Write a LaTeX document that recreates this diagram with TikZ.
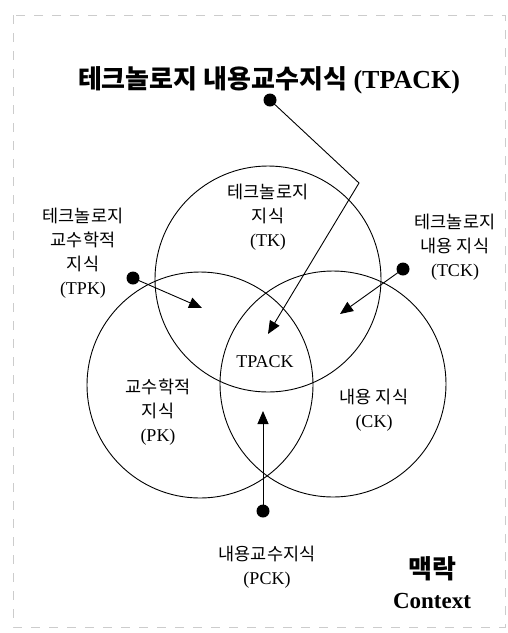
\documentclass[tikz,border=0pt]{standalone}
\usepackage{fontspec}
\setmainfont{Liberation Serif}
\newfontfamily\krfont{Noto Sans CJK KR}
\newcommand\kor[1]{{\krfont\fontsize{17.5}{24}\selectfont #1}}
\usetikzlibrary{arrows.meta}
\begin{document}
\begin{tikzpicture}[x=1pt,y=-1pt,
  setcircle/.style={draw, circle, line width=0.9pt, minimum size=226pt, inner sep=0pt},
  lbl/.style={align=center, font=\fontsize{18}{24}\selectfont, inner sep=0pt},
  dotnode/.style={circle, fill=black, minimum size=13pt, inner sep=0pt},
  pointer/.style={line width=0.9pt, -{Triangle[length=13pt,width=11pt]}},
  frame/.style={gray!40, dash pattern=on 9pt off 9pt, line width=0.7pt}
]
\useasboundingbox (0,0) rectangle (508,633);
\draw[frame] (13,15) rectangle (505,627);

% circles
\node[setcircle] (TK) at (268,279) {};
\node[setcircle] (PK) at (200,385) {};
\node[setcircle] (CK) at (333,384) {};

% title
\node[inner sep=0pt, font=\bfseries\fontsize{26}{30}\selectfont] (title) at (269,80)
  {{\krfont 테크놀로지 내용교수지식} (TPACK)};

% labels
\node[lbl] (tkl) at (268,217) {\kor{테크놀로지}\\\kor{지식}\\(TK)};
\node[lbl] (tpkl) at (83,253) {\kor{테크놀로지}\\\kor{교수학적}\\\kor{지식}\\(TPK)};
\node[lbl] (tckl) at (455,247) {\kor{테크놀로지}\\\kor{내용 지식}\\(TCK)};
\node[lbl] (pkl) at (158,412) {\kor{교수학적}\\\kor{지식}\\(PK)};
\node[lbl] (ckl) at (374,410) {\kor{내용 지식}\\(CK)};
\node[lbl] (tpackl) at (265,362) {TPACK};
\node[lbl] (pckl) at (267,567) {\kor{내용교수지식}\\(PCK)};
\node[align=center, inner sep=0pt, font=\bfseries\fontsize{23}{30}\selectfont] (ctx) at (432,583)
  {{\krfont\fontsize{26}{30}\selectfont 맥락}\\Context};

% dots and pointers
\node[dotnode] (dTK) at (270,100) {};
\node[dotnode] (dTPK) at (133,278) {};
\node[dotnode] (dTCK) at (403,269) {};
\node[dotnode] (dPCK) at (263,511) {};
\coordinate (bend) at (359,183);
\coordinate (tipTK) at (268,334);
\coordinate (tipTPK) at (202,308);
\coordinate (tipTCK) at (340,314);
\coordinate (tipPCK) at (263,411);

\draw[pointer] (dTK.center) -- (bend) -- (tipTK);
\draw[pointer] (dTPK.center) -- (tipTPK);
\draw[pointer] (dTCK.center) -- (tipTCK);
\draw[pointer] (dPCK.center) -- (tipPCK);
\end{tikzpicture}
\end{document}
